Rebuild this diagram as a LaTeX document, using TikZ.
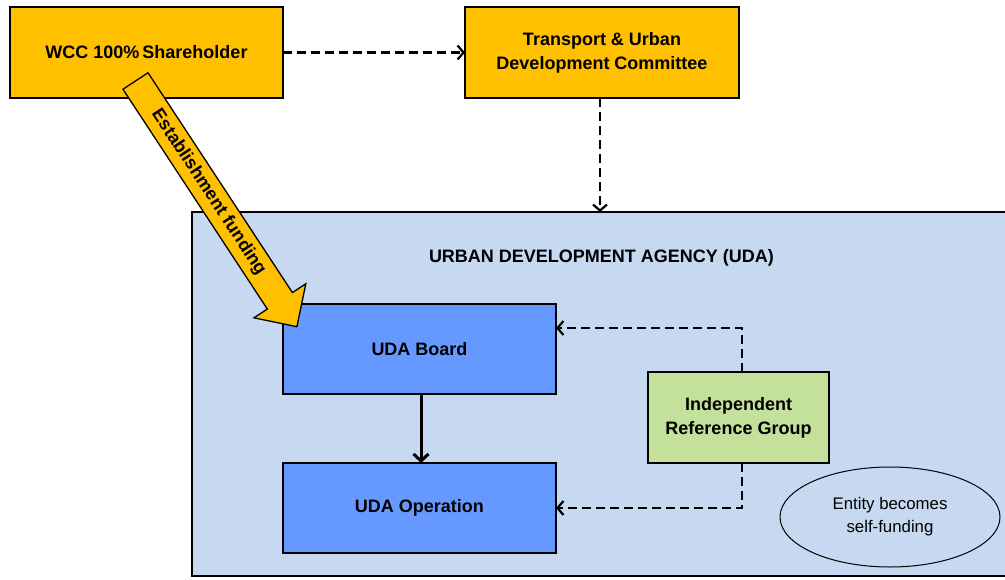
\documentclass[tikz,border=0pt]{standalone}
\usepackage{fontspec}
\setmainfont{Liberation Sans}
\usetikzlibrary{arrows.meta,shapes.geometric}
\definecolor{gold}{HTML}{FFC000}
\definecolor{udabg}{HTML}{C6D9F0}
\definecolor{bluebox}{HTML}{6699FF}
\definecolor{greenbox}{HTML}{C4E19C}
\tikzset{
  boldtext/.style={font=\fontsize{18}{24}\selectfont\bfseries},
  box/.style={draw=black, line width=2.8pt, inner sep=0pt, outer sep=0pt, align=center, boldtext},
  dasharrow/.style={draw=black, line width=2.2pt, dash pattern=on 9pt off 5pt,
    -{Straight Barb[length=6pt,width=14pt]}},
  solidarrow/.style={draw=black, line width=3pt, -{Straight Barb[length=7pt,width=15pt]}},
}
\begin{document}
\begin{tikzpicture}[x=1pt,y=-1pt]
\clip (0,0) rectangle (1005,579);
\fill[white] (0,0) rectangle (1005,579);
% outer agency box
\node[box, fill=udabg, minimum width=818pt, minimum height=364pt] (uda) at (601,394) {};
\node[boldtext, inner sep=0pt] (title) at (601.5,258) {URBAN DEVELOPMENT AGENCY (UDA)};
% top boxes
\node[box, fill=gold, minimum width=273pt, minimum height=91pt] (wcc) at (146.5,52.5) {WCC 100\%\,Shareholder};
\node[box, fill=gold, minimum width=274pt, minimum height=91pt] (tud) at (602,52.5) {Transport \& Urban\\Development Committee};
% inner boxes
\node[box, fill=bluebox, minimum width=273pt, minimum height=90pt] (board) at (419.5,349) {UDA Board};
\node[box, fill=bluebox, minimum width=273pt, minimum height=90pt] (op) at (419.5,508) {UDA Operation};
\node[box, fill=greenbox, minimum width=181pt, minimum height=91pt] (irg) at (738.5,417.5) {Independent\\Reference Group};
\node[ellipse, draw=black, line width=1pt, minimum width=220pt, minimum height=100pt, inner sep=0pt,
  align=center, font=\fontsize{16.8}{23}\selectfont] (self) at (890,517) {Entity becomes\\self-funding};
% connectors
\draw[dasharrow] (wcc.east) -- (tud.west);
\draw[dasharrow] ([xshift=-2pt]tud.south) -- ([xshift=-2pt]tud.south |- uda.north);
\draw[dasharrow] ([xshift=3.5pt]irg.north) |- ([yshift=21pt]board.east);
\draw[dasharrow] ([xshift=3.5pt]irg.south) |- (op.east);
\draw[solidarrow] ([xshift=1.5pt]board.south) -- ([xshift=1.5pt]op.north);
% establishment funding arrow
\begin{scope}[shift={(135.5,81)}, rotate=-56.7]
\draw[fill=gold, line width=1.3pt, line join=miter]
  (0,-15) -- (263,-15) -- (263,-31) -- (294,0) -- (263,31) -- (263,15) -- (0,15) -- cycle;
\node[rotate=-56.7, inner sep=0pt, boldtext] (fund) at (133,0) {Establishment funding};
\end{scope}
\end{tikzpicture}
\end{document}
